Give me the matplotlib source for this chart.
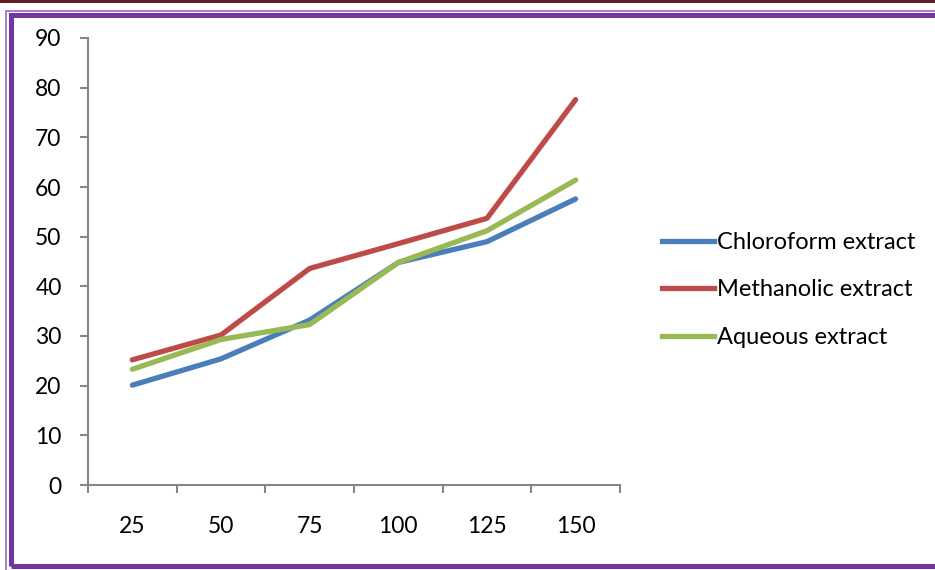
import matplotlib.pyplot as plt
from matplotlib.patches import Rectangle
from matplotlib.lines import Line2D

concentrations = ['25', '50', '75', '100', '125', '150']
chloroform = [20.1, 25.4, 33.2, 44.8, 49.0, 57.6]
methanolic = [25.2, 30.2, 43.6, 48.6, 53.7, 77.6]
aqueous = [23.3, 29.3, 32.3, 44.8, 51.2, 61.4]

plt.rcParams['font.family'] = ['Lato', 'DejaVu Sans']

fig = plt.figure(figsize=(9.35, 5.7), dpi=100)
ax = fig.add_axes([88 / 935, 1 - 485 / 570, 532 / 935, 447 / 570])

x = [i + 0.5 for i in range(len(concentrations))]
ax.plot(x, chloroform, color='#4A7EBB', lw=3.8, solid_capstyle='round', solid_joinstyle='round', label='Chloroform extract')
ax.plot(x, methanolic, color='#BE4B48', lw=3.8, solid_capstyle='round', solid_joinstyle='round', label='Methanolic extract')
ax.plot(x, aqueous, color='#98B954', lw=3.8, solid_capstyle='round', solid_joinstyle='round', label='Aqueous extract')

ax.set_xlim(0, len(concentrations))
ax.set_ylim(0, 90)
ax.set_yticks(range(0, 91, 10))
ax.set_xticks(x)
ax.set_xticklabels(concentrations)
ax.set_xticks(range(len(concentrations) + 1), minor=True)

axis_grey = '#868686'
for side in ['top', 'right']:
    ax.spines[side].set_visible(False)
for side in ['left', 'bottom']:
    ax.spines[side].set_color(axis_grey)
    ax.spines[side].set_linewidth(1.5)

ax.tick_params(axis='y', length=6, width=1.5, color=axis_grey, pad=13, labelsize=16.5)
ax.tick_params(axis='x', which='major', length=0, pad=22, labelsize=16.5)
ax.tick_params(axis='x', which='minor', length=6, width=1.5, color=axis_grey)

handles = [Line2D([], [], color=l.get_color(), lw=3.8) for l in ax.get_lines()]
fig.legend(handles, [l.get_label() for l in ax.get_lines()],
           loc='center left', bbox_to_anchor=(650 / 935, 1 - 290 / 570),
           frameon=False, fontsize=17, handlelength=2.2, handletextpad=0.15,
           labelspacing=1.12, borderpad=0)

# double purple frame, open on the right, with a dark rule along the top edge
fig.patches.append(Rectangle((5.5 / 935, -0.02), 2, 1 - 11 / 570 + 0.02,
                             transform=fig.transFigure, fill=False,
                             edgecolor='#9B6BC4', lw=1.2))
fig.patches.append(Rectangle((10.5 / 935, 4 / 570), 2, 1 - 14.5 / 570 - 4 / 570,
                             transform=fig.transFigure, fill=False,
                             edgecolor='#7434A4', lw=3.6))
fig.patches.append(Rectangle((0, 1 - 2.5 / 570), 1, 2.5 / 570, transform=fig.transFigure,
                             facecolor='#5E2020', edgecolor='none'))

fig.savefig('out.png', dpi=100, facecolor='white')
